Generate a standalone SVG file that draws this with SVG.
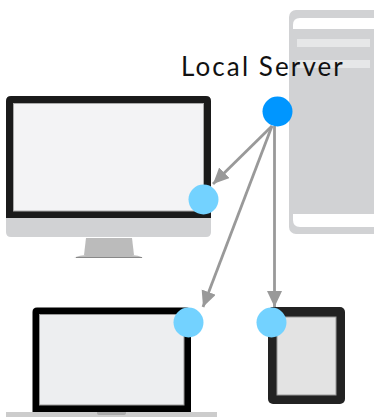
<svg xmlns="http://www.w3.org/2000/svg" width="374" height="417" viewBox="0 0 374 417">
<style>
.conn{stroke:#999;stroke-width:2.800;fill:none;marker-end:url(#arrow)}
.port{fill:#73d2ff}
text{font-family:"Lato","Noto Sans",sans-serif;font-size:26px;fill:#111;letter-spacing:2.100px}
</style>
<defs>
<marker id="arrow" markerUnits="userSpaceOnUse" markerWidth="18" markerHeight="16" refX="16" refY="7.500" orient="auto">
<path d="M0 0L16 7.500L0 15Z" fill="#999"/>
</marker>
</defs>
<rect width="374" height="417" fill="#fff"/>
<g id="server">
<rect x="289" y="10" width="100" height="224" rx="7" fill="#d1d2d4"/>
<path d="M293 29V25Q293 18 300 18H374V29Z" fill="#fff"/>
<path d="M293 214V220Q293 227 300 227H374V214Z" fill="#fff"/>
<rect x="297" y="39" width="73" height="8" fill="#e6e7e8"/>
<rect x="297" y="60" width="73" height="8" fill="#e6e7e8"/>
</g>
<g id="monitor">
<path d="M6 218H211V232Q211 237 206 237H11Q6 237 6 232Z" fill="#d1d2d4"/>
<path d="M86 238H132L134 255H84Z" fill="#bbb"/>
<path d="M74 257.500Q80 255 86 255H132Q138 255 143 257.500Z" fill="#bbb"/>
<rect x="76" y="257" width="66" height="1" fill="#888"/>
<path d="M6 218V101Q6 96 11 96H206Q211 96 211 101V218Z" fill="#1a1a1a"/>
<rect x="13.500" y="103.500" width="190" height="107.500" fill="#f3f3f5" stroke="#aaa" stroke-width="1"/>
</g>
<g id="laptop">
<path d="M32.500 412V312Q32.500 307.500 37 307.500H186Q191 307.500 191 312V412Z" fill="#000"/>
<rect x="39.500" y="314.500" width="144.500" height="90.500" fill="#edeef0" stroke="#999" stroke-width="1"/>
<rect x="6" y="412" width="211" height="5" fill="#ccc"/>
<path d="M97 412H126V413Q126 415 123 415H100Q97 415 97 413Z" fill="#aaa"/>
</g>
<g id="tablet">
<rect x="268" y="307" width="77" height="97" rx="5" fill="#222"/>
<rect x="277" y="317" width="59" height="78" fill="#e3e3e3" stroke="#999" stroke-width="1"/>
</g>
<g id="connectors">
<line class="conn" x1="272" y1="126" x2="213" y2="184"/>
<line class="conn" x1="272" y1="126" x2="203" y2="307"/>
<line class="conn" x1="274.500" y1="126" x2="274.500" y2="307"/>
</g>
<g id="local-server">
<circle cx="277.500" cy="111.500" r="15" fill="#0096ff"/>
<text x="181" y="76">Local Server</text>
</g>
<g id="monitor-port"><circle class="port" cx="203.500" cy="199.500" r="15"/></g>
<g id="laptop-port"><circle class="port" cx="188.500" cy="322.500" r="15"/></g>
<g id="tablet-port"><circle class="port" cx="271.500" cy="322.500" r="15"/></g>
</svg>
